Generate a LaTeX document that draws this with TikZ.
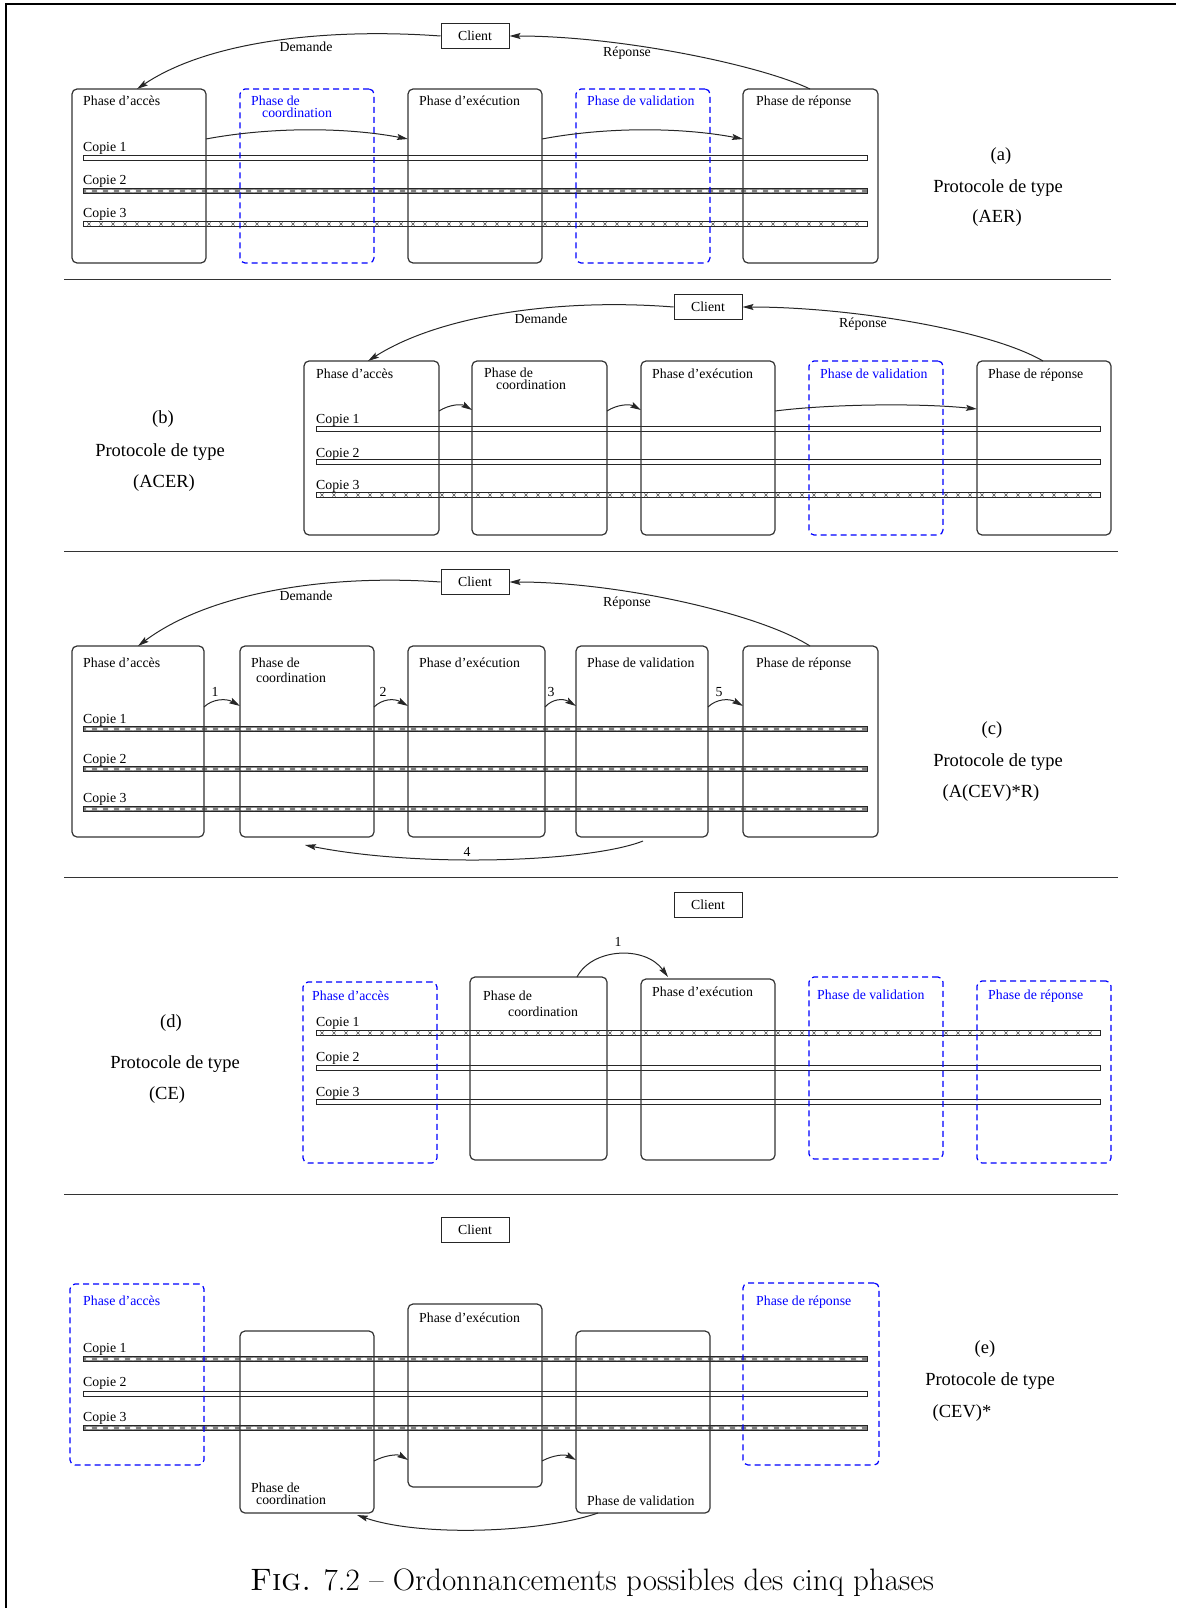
\documentclass[tikz,border=0pt]{standalone}
\usepackage{fontspec}
\newfontfamily\tms{Liberation Serif}
\usetikzlibrary{arrows.meta,fit,calc}
\newcommand\barplain[3]{\draw[line width=0.8pt,black!85,fill=white] (#1,#3-2.6) rectangle (#2,#3+2.6);}
\newcommand\barchain[3]{%
  \fill[black!50] (#1,#3-2.6) rectangle (#2,#3+2.6);
  \pgfmathtruncatemacro\nchain{(#2-#1-8)/11}%
  \foreach \k in {0,...,\nchain}{\filldraw[fill=white,draw=black!60,line width=0.3pt] ({#1+6+11*\k},#3) ellipse (3.9 and 1.7);}
  \draw[line width=0.8pt,black!85] (#1,#3-2.6) rectangle (#2,#3+2.6);}
\newcommand\barx[3]{%
  \draw[line width=0.8pt,black!85,fill=white] (#1,#3-2.6) rectangle (#2,#3+2.6);
  \pgfmathtruncatemacro\nchain{(#2-#1-8)/12}%
  \foreach \k in {0,...,\nchain}{\draw[black!70,line width=0.6pt] ({#1+6+12*\k-1.6},#3-1.6) -- ++(3.2,3.2) ++(-3.2,0) -- ++(3.2,-3.2);}}
\tikzset{
  pbox/.style={draw=black!80, line width=1.2pt, rounded corners=5pt, inner sep=0pt, outer sep=0pt},
  bbox/.style={draw=blue, line width=1.2pt, dash pattern=on 6pt off 4pt, rounded corners=5pt, inner sep=0pt, outer sep=0pt},
  lbl/.style={font=\tms\fontsize{13.8}{16}\selectfont, inner sep=0pt, anchor=base west},
  blbl/.style={lbl, text=blue},
  ctr/.style={font=\tms\fontsize{13.8}{16}\selectfont, inner sep=0pt},
  big/.style={font=\tms\fontsize{18.5}{22}\selectfont, inner sep=0pt},
  client/.style={draw=black!85, line width=1pt, minimum width=68pt, minimum height=25pt, inner sep=0pt, font=\tms\fontsize{13.8}{16}\selectfont},
  arr/.style={-{Stealth[length=11pt,width=6pt,inset=2pt]}, line width=1pt, black!85},
  sep/.style={line width=1pt, black!80},
}
\begin{document}
\begin{tikzpicture}[x=1pt,y=-1pt]
\useasboundingbox (0,0) rectangle (1176,1608);
\draw[line width=2pt] (6,1608) -- (6,4) -- (1176,4);

% ---------------- (a)
\barplain{83}{867}{158}
\barchain{83}{867}{191}
\barx{83}{867}{224}
\node[pbox, fit={(72,89)(206,263)}] (a1) {};
\node[bbox, fit={(240,89)(374,263)}] (a2) {};
\node[pbox, fit={(408,89)(542,263)}] (a3) {};
\node[bbox, fit={(576,89)(710,263)}] (a4) {};
\node[pbox, fit={(743,89)(878,263)}] (a5) {};
\node[client] (aC) at (475,36) {Client};
\node[lbl] (a1t) at (83,106) {Phase d’accès};
\node[blbl] (a2t) at (251,106) {Phase de};
\node[blbl] (a2u) at (262,118) {coordination};
\node[lbl] (a3t) at (419,106) {Phase d’exécution};
\node[blbl] (a4t) at (587,106) {Phase de validation};
\node[lbl] (a5t) at (756,106) {Phase de réponse};
\node[lbl] (ac1) at (83,152) {Copie 1};
\node[lbl] (ac2) at (83,185) {Copie 2};
\node[lbl] (ac3) at (83,218) {Copie 3};
\node[ctr] (aD) at (306,47) {Demande};
\node[ctr] (aR) at (627,53) {Réponse};
\draw[arr] (aC.west) .. controls (330,28) and (210,40) .. ($(a1.north west)+(65,0)$);
\draw[arr] ($(a5.north west)+(67,0)$) .. controls (760,65) and (620,36) .. (aC.east);
\draw[arr] ($(a1.north east)+(0,50)$) .. controls (270,127) and (345,127) .. ($(a3.north west)+(0,50)$);
\draw[arr] ($(a3.north east)+(0,50)$) .. controls (605,127) and (680,127) .. ($(a5.north west)+(0,50)$);
\node[big] (aL1) at (1001,156) {(a)};
\node[big] (aL2) at (998,188) {Protocole de type};
\node[big] (aL3) at (997,218) {(AER)};
\draw[sep] (64,279) -- (1111,279);

% ---------------- (b)
\barplain{316}{1100}{429}
\barplain{316}{1100}{462}
\barx{316}{1100}{495}
\node[pbox, fit={(304,361)(439,535)}] (b1) {};
\node[pbox, fit={(472,361)(607,535)}] (b2) {};
\node[pbox, fit={(641,361)(775,535)}] (b3) {};
\node[bbox, fit={(809,361)(943,535)}] (b4) {};
\node[pbox, fit={(977,361)(1111,535)}] (b5) {};
\node[client] (bC) at (708,307) {Client};
\node[lbl] (b1t) at (316,378) {Phase d’accès};
\node[lbl] (b2t) at (484,377) {Phase de};
\node[lbl] (b2u) at (496,389) {coordination};
\node[lbl] (b3t) at (652,378) {Phase d’exécution};
\node[blbl] (b4t) at (820,378) {Phase de validation};
\node[lbl] (b5t) at (988,378) {Phase de réponse};
\node[lbl] (bc1) at (316,423) {Copie 1};
\node[lbl] (bc2) at (316,457) {Copie 2};
\node[lbl] (bc3) at (316,489) {Copie 3};
\node[ctr] (bD) at (541,319) {Demande};
\node[ctr] (bR) at (863,324) {Réponse};
\draw[arr] (bC.west) .. controls (560,298) and (440,315) .. ($(b1.north west)+(64,0)$);
\draw[arr] ($(b5.north west)+(66,0)$) .. controls (990,330) and (850,307) .. (bC.east);
\draw[arr] ($(b1.north east)+(0,50)$) .. controls (450,404) and (462,404) .. ($(b2.north west)+(0,49)$);
\draw[arr] ($(b2.north east)+(0,50)$) .. controls (618,404) and (630,404) .. ($(b3.north west)+(0,49)$);
\draw[arr] ($(b3.north east)+(0,50)$) .. controls (830,404) and (920,403) .. ($(b5.north west)+(0,48)$);
\node[big] (bL1) at (163,419) {(b)};
\node[big] (bL2) at (160,452) {Protocole de type};
\node[big] (bL3) at (164,483) {(ACER)};
\draw[sep] (64,551) -- (1118,551);

% ---------------- (c)
\barchain{83}{867}{729}
\barchain{83}{867}{769}
\barchain{83}{867}{809}
\node[pbox, fit={(72,646)(204,837)}] (c1) {};
\node[pbox, fit={(240,646)(374,837)}] (c2) {};
\node[pbox, fit={(408,646)(545,837)}] (c3) {};
\node[pbox, fit={(576,646)(708,837)}] (c4) {};
\node[pbox, fit={(743,646)(878,837)}] (c5) {};
\node[client] (cC) at (475,582) {Client};
\node[lbl] (c1t) at (83,667) {Phase d’accès};
\node[lbl] (c2t) at (251,667) {Phase de};
\node[lbl] (c2u) at (256,682) {coordination};
\node[lbl] (c3t) at (419,667) {Phase d’exécution};
\node[lbl] (c4t) at (587,667) {Phase de validation};
\node[lbl] (c5t) at (756,667) {Phase de réponse};
\node[lbl] (cc1) at (83,723) {Copie 1};
\node[lbl] (cc2) at (83,763) {Copie 2};
\node[lbl] (cc3) at (83,802) {Copie 3};
\node[ctr] (cD) at (306,596) {Demande};
\node[ctr] (cR) at (627,603) {Réponse};
\draw[arr] (cC.west) .. controls (330,574) and (210,592) .. ($(c1.north west)+(66,0)$);
\draw[arr] ($(c5.north west)+(67,0)$) .. controls (760,614) and (620,582) .. (cC.east);
\draw[arr] ($(c1.north east)+(0,61)$) .. controls (212,699) and (226,698) .. ($(c2.north west)+(0,60)$);
\draw[arr] ($(c2.north east)+(0,61)$) .. controls (382,699) and (394,698) .. ($(c3.north west)+(0,60)$);
\draw[arr] ($(c3.north east)+(0,61)$) .. controls (552,699) and (563,698) .. ($(c4.north west)+(0,60)$);
\draw[arr] ($(c4.north east)+(0,61)$) .. controls (716,699) and (729,698) .. ($(c5.north west)+(0,60)$);
\node[ctr] (cn1) at (215,692) {1};
\node[ctr] (cn2) at (383,692) {2};
\node[ctr] (cn3) at (551,692) {3};
\node[ctr] (cn5) at (719,692) {5};
\draw[arr] ($(c4.south west)+(67,4)$) .. controls (590,862) and (420,868) .. ($(c2.south west)+(65,8)$);
\node[ctr] (cn4) at (467,852) {4};
\node[big] (cL1) at (992,730) {(c)};
\node[big] (cL2) at (998,762) {Protocole de type};
\node[big] (cL3) at (991,793) {(A(CEV)*R)};
\draw[sep] (64,877) -- (1118,877);

% ---------------- (d)
\barx{316}{1100}{1033}
\barplain{316}{1100}{1067.5}
\barplain{316}{1100}{1102}
\node[bbox, fit={(303,982)(437,1163)}] (d1) {};
\node[pbox, fit={(470,977)(607,1160)}] (d2) {};
\node[pbox, fit={(641,979)(775,1160)}] (d3) {};
\node[bbox, fit={(809,977)(943,1159)}] (d4) {};
\node[bbox, fit={(977,981)(1111,1163)}] (d5) {};
\node[client] (dC) at (708,905) {Client};
\node[blbl] (d1t) at (312,1000) {Phase d’accès};
\node[lbl] (d2t) at (483,1000) {Phase de};
\node[lbl] (d2u) at (508,1016) {coordination};
\node[lbl] (d3t) at (652,996) {Phase d’exécution};
\node[blbl] (d4t) at (817,999) {Phase de validation};
\node[blbl] (d5t) at (988,999) {Phase de réponse};
\node[lbl] (dc1) at (316,1026) {Copie 1};
\node[lbl] (dc2) at (316,1061) {Copie 2};
\node[lbl] (dc3) at (316,1096) {Copie 3};
\draw[arr] ($(d2.north west)+(107,0)$) .. controls (592,948) and (645,945) .. ($(d3.north west)+(27,-2)$);
\node[ctr] (dn1) at (618,942) {1};
\node[big] (dL1) at (171,1023) {(d)};
\node[big] (dL2) at (175,1064) {Protocole de type};
\node[big] (dL3) at (167,1095) {(CE)};
\draw[sep] (64,1194) -- (1118,1194);

% ---------------- (e)
\barchain{83}{867}{1359}
\barplain{83}{867}{1394}
\barchain{83}{867}{1428}
\node[bbox, fit={(70,1284)(204,1465)}] (e1) {};
\node[pbox, fit={(240,1331)(374,1513)}] (e2) {};
\node[pbox, fit={(408,1304)(542,1487)}] (e3) {};
\node[pbox, fit={(576,1331)(710,1513)}] (e4) {};
\node[bbox, fit={(743,1283)(879,1465)}] (e5) {};
\node[client] (eC) at (475,1230) {Client};
\node[blbl] (e1t) at (83,1305) {Phase d’accès};
\node[lbl] (e3t) at (419,1322) {Phase d’exécution};
\node[lbl] (e2t) at (251,1492) {Phase de};
\node[lbl] (e2u) at (256,1504) {coordination};
\node[lbl] (e4t) at (587,1505) {Phase de validation};
\node[blbl] (e5t) at (756,1305) {Phase de réponse};
\node[lbl] (ec1) at (83,1352) {Copie 1};
\node[lbl] (ec2) at (83,1386) {Copie 2};
\node[lbl] (ec3) at (83,1421) {Copie 3};
\draw[arr] ($(e2.south east)+(0,-52)$) .. controls (385,1455) and (398,1454) .. ($(e3.south west)+(0,-27)$);
\draw[arr] ($(e3.south east)+(0,-26)$) .. controls (553,1455) and (565,1454) .. ($(e4.south west)+(0,-53)$);
\draw[arr] ($(e4.south west)+(22,0)$) .. controls (540,1533) and (420,1537) .. ($(e2.south west)+(117,2)$);
\node[big] (eL1) at (985,1349) {(e)};
\node[big] (eL2) at (990,1381) {Protocole de type};
\node[big] (eL3) at (962,1413) {(CEV)*};

% caption
\node[font=\fontsize{31}{35}\selectfont, inner sep=0pt, anchor=base] (cap) at (592,1590) {\textsc{Fig.} 7.2 – Ordonnancements possibles des cinq phases};
\end{tikzpicture}
\end{document}
